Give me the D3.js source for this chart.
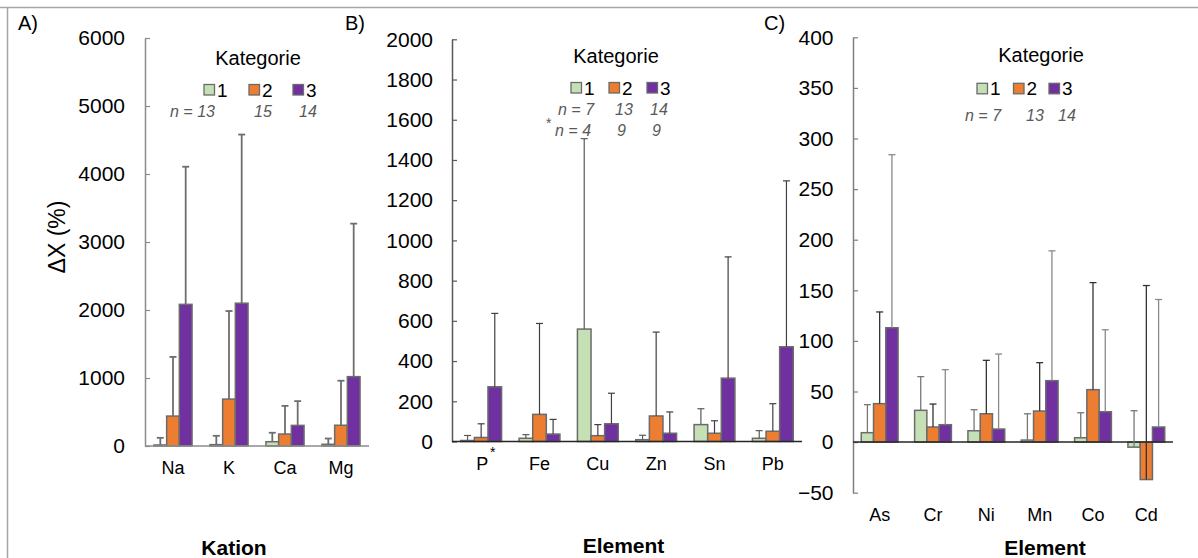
<!DOCTYPE html>
<html><head><meta charset="utf-8">
<script src="https://cdn.jsdelivr.net/npm/d3@7"></script>
<style>
html,body{margin:0;padding:0;background:#fff;}
svg{display:block;font-family:"Liberation Sans",Arial,sans-serif;}
</style></head>
<body>
<script>
// ---------- DATA ----------
const seriesNames = ["1", "2", "3"];
const colors = ["#c5e0b4", "#ed7d31", "#7030a0"];

// Panel A (Kation)
const catsA = ["Na", "K", "Ca", "Mg"];
const meanA1 = [15, 20, 63, 25];
const meanA2 = [440, 690, 176, 305];
const meanA3 = [2083, 2100, 303, 1020];
const upA1 = [120, 150, 195, 110];
const upA2 = [1310, 1985, 590, 960];
const upA3 = [4107, 4580, 660, 3270];
const ticksA = [0, 1000, 2000, 3000, 4000, 5000, 6000];
const nA = ["n = 13", "15", "14"];

// Panel B (Element)
const catsB = ["P", "Fe", "Cu", "Zn", "Sn", "Pb"];
const meanB1 = [5, 16, 559, 9, 84, 16];
const meanB2 = [20, 135, 29, 127, 41, 51];
const meanB3 = [272, 37, 88, 41, 315, 471];
const upB1 = [30, 34, 1506, 31, 163, 54];
const upB2 = [88, 587, 84, 544, 103, 188];
const upB3 = [637, 110, 240, 147, 918, 1296];
const ticksB = [0, 200, 400, 600, 800, 1000, 1200, 1400, 1600, 1800, 2000];
const nB = ["n = 7", "13", "14"];
const nBstar = ["n = 4", "9", "9"];

// Panel C (Element)
const catsC = ["As", "Cr", "Ni", "Mn", "Co", "Cd"];
const meanC1 = [9.3, 31.4, 11.2, 2, 4.3, -5];
const meanC2 = [38, 14.9, 28, 30.7, 51.8, -37];
const meanC3 = [113, 17.2, 12.9, 60.7, 30, 14.9];
const upC1 = [37, 64.7, 32, 28, 29, 31];
const upC2 = [128.6, 37.6, 80.8, 78.5, 157.6, 154.7];
const upC3 = [284, 71.6, 87, 189, 111, 140.9];
const ticksC = [-50, 0, 50, 100, 150, 200, 250, 300, 350, 400];
const nC = ["n = 7", "13", "14"];

// ---------- DRAW ----------
const W = 1198, H = 558;
const svg = d3.select("body").append("svg").attr("width", W).attr("height", H);

// outer frame lines
svg.append("line").attr("x1", 0).attr("x2", W).attr("y1", 7.5).attr("y2", 7.5)
  .attr("stroke", "#a6a6a6").attr("stroke-width", 1.5);
svg.append("line").attr("x1", 7.5).attr("x2", 7.5).attr("y1", 7).attr("y2", H)
  .attr("stroke", "#a6a6a6").attr("stroke-width", 1.5);

function panel(cfg) {
  const g = svg.append("g");
  const x0 = d3.scaleBand().domain(cfg.cats).range(cfg.xr)
    .paddingInner(cfg.pad).paddingOuter(cfg.pad / 2);
  const x1 = d3.scaleBand().domain(seriesNames).range([0, x0.bandwidth()]);
  const y = d3.scaleLinear().domain(cfg.domain).range(cfg.yr);

  // y axis
  const ax = g.append("g").attr("transform", `translate(${cfg.xr[0]},0)`)
    .call(d3.axisLeft(y).tickValues(cfg.ticks).tickFormat(d3.format("d"))
      .tickSize(-5).tickPadding(cfg.tickPad).tickSizeOuter(0));
  ax.select(".domain").attr("stroke", cfg.yAxisColor).attr("stroke-width", 1.5);
  ax.selectAll(".tick line").attr("stroke", cfg.yAxisColor).attr("stroke-width", 1.2);
  ax.selectAll(".tick text").attr("font-size", 21).attr("fill", "#000")
    .attr("font-family", "Liberation Sans, Arial, sans-serif");

  // bars
  cfg.means.forEach((arr, si) => {
    g.selectAll(null).data(arr).enter().append("rect")
      .attr("x", (d, i) => x0(cfg.cats[i]) + x1(seriesNames[si]))
      .attr("width", x1.bandwidth())
      .attr("y", d => y(Math.max(0, d)))
      .attr("height", d => Math.abs(y(d) - y(0)))
      .attr("fill", colors[si]).attr("stroke", "#6b6b6b").attr("stroke-width", 1.5);
  });

  // x axis line at 0
  g.append("line").attr("x1", cfg.xr[0]).attr("x2", cfg.xr[1])
    .attr("y1", y(0)).attr("y2", y(0))
    .attr("stroke", cfg.xAxisColor).attr("stroke-width", 1.5);

  // error bars
  cfg.ups.forEach((arr, si) => {
    arr.forEach((u, i) => {
      const cx = x0(cfg.cats[i]) + x1(seriesNames[si]) + x1.bandwidth() / 2;
      const col = cfg.errColors[si];
      g.append("line").attr("x1", cx).attr("x2", cx)
        .attr("y1", y(cfg.means[si][i])).attr("y2", y(u))
        .attr("stroke", col).attr("stroke-width", cfg.errW);
      g.append("line").attr("x1", cx - 3.5).attr("x2", cx + 3.5)
        .attr("y1", y(u)).attr("y2", y(u))
        .attr("stroke", col).attr("stroke-width", cfg.errW);
    });
  });

  // category labels
  g.selectAll(null).data(cfg.cats).enter().append("text")
    .attr("x", d => x0(d) + x0.bandwidth() / 2 + (d === "P" ? 1 : 0))
    .attr("y", cfg.catY)
    .attr("text-anchor", "middle").attr("font-size", 18).attr("fill", "#000")
    .text(d => d);

  return { g, x0, y };
}

// Panel A
panel({
  cats: catsA, xr: [145, 369], pad: 0.32, domain: [0, 6000], yr: [446, 38],
  ticks: ticksA, tickPad: 20, yAxisColor: "#8c8c8c", xAxisColor: "#8c8c8c",
  means: [meanA1, meanA2, meanA3], ups: [upA1, upA2, upA3],
  errColors: ["#6e6e6e", "#6e6e6e", "#6e6e6e"], errW: 1.8, catY: 474
});
// Panel B
panel({
  cats: catsB, xr: [452, 802], pad: 0.3, domain: [0, 2000], yr: [441.5, 39.3],
  ticks: ticksB, tickPad: 19, yAxisColor: "#595959", xAxisColor: "#262626",
  means: [meanB1, meanB2, meanB3], ups: [upB1, upB2, upB3],
  errColors: ["#5a5a5a", "#404040", "#404040"], errW: 1.2, catY: 469.5
});
// Panel C
panel({
  cats: catsC, xr: [853, 1173], pad: 0.31, domain: [-50, 400], yr: [492.7, 37.3],
  ticks: ticksC, tickPad: 19.5, yAxisColor: "#7f7f7f", xAxisColor: "#262626",
  means: [meanC1, meanC2, meanC3], ups: [upC1, upC2, upC3],
  errColors: ["#777777", "#333333", "#8a8a8a"], errW: 1.3, catY: 520.7
});

// asterisk on P label
svg.append("text").attr("x", 490).attr("y", 457).attr("font-size", 14).text("*");

// panel letters
[["A)", 18], ["B)", 345], ["C)", 764]].forEach(([t, x]) => {
  svg.append("text").attr("x", x).attr("y", 30).attr("font-size", 20).text(t);
});

// y title
svg.append("text").attr("transform", "translate(65,237) rotate(-90)")
  .attr("text-anchor", "middle").attr("font-size", 23).text("ΔX (%)");

// x titles
[["Kation", 234, 555], ["Element", 623.5, 553], ["Element", 1045, 555]].forEach(([t, x, yy]) => {
  svg.append("text").attr("x", x).attr("y", yy).attr("text-anchor", "middle")
    .attr("font-size", 21).attr("font-weight", "bold").text(t);
});

// legends
function legend(cx, titleY, boxX, boxY, nX, nY, nLabels, nX2, nY2, nLabels2) {
  svg.append("text").attr("x", cx).attr("y", titleY).attr("text-anchor", "middle")
    .attr("font-size", 20).text("Kategorie");
  seriesNames.forEach((s, i) => {
    svg.append("rect").attr("x", boxX[i]).attr("y", boxY).attr("width", 10.5).attr("height", 10.5)
      .attr("fill", colors[i]).attr("stroke", "#6b6b6b").attr("stroke-width", 1.3);
    svg.append("text").attr("x", boxX[i] + 13).attr("y", boxY + 12).attr("font-size", 19).text(s);
  });
  nLabels.forEach((t, i) => {
    svg.append("text").attr("x", nX[i]).attr("y", nY).attr("font-size", 16)
      .attr("font-style", "italic").attr("fill", "#595959").text(t);
  });
  if (nLabels2) {
    nLabels2.forEach((t, i) => {
      svg.append("text").attr("x", nX2[i]).attr("y", nY2).attr("font-size", 16)
        .attr("font-style", "italic").attr("fill", "#595959").text(t);
    });
  }
}
legend(258, 65, [204, 249, 293], 84.5, [170, 254, 299], 117, nA);
legend(616, 62.7, [571, 609, 647], 82.5, [558, 615, 650], 115, nB, [555, 617, 652], 136, nBstar);
svg.append("text").attr("x", 546).attr("y", 128).attr("font-size", 14).attr("fill", "#595959").text("*");
legend(1041, 62.3, [977, 1013.5, 1049], 83.3, [965, 1026, 1058], 120.7, nC);
</script>
</body></html>
